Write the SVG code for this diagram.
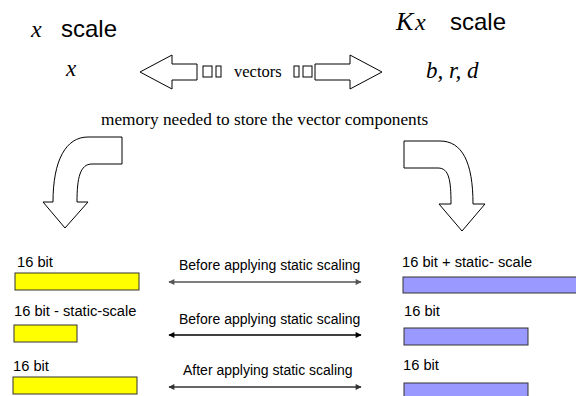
<svg xmlns="http://www.w3.org/2000/svg" width="576" height="396" viewBox="0 0 576 396">
<defs>
<style>
.sans{font-family:"Liberation Sans",Arial,sans-serif;fill:#000}
.serif{font-family:"Liberation Serif","Times New Roman",serif;fill:#000}
.math{font-family:"Liberation Serif","Times New Roman",serif;font-style:italic;fill:#000}
.big{fill:#fff;stroke:#000;stroke-width:1}
.tofu{fill:#fff;stroke:#000;stroke-width:1}
.ybar{fill:#ffff00;stroke:#333;stroke-width:1}
.bbar{fill:#9999ff;stroke:#333;stroke-width:1}
.lbl{font-size:14.7px}
.dbl{stroke-width:1.5;fill:none}
</style>
<marker id="ah" viewBox="0 0 10 10" refX="9" refY="5" markerWidth="8" markerHeight="6" orient="auto-start-reverse" markerUnits="userSpaceOnUse">
<path d="M0,0 L10,5 L0,10 z" fill="context-stroke"/>
</marker>
</defs>
<rect width="576" height="396" fill="#fff"/>

<g id="x-scale-title">
<text class="math" x="31" y="37" font-size="24">x</text>
<text class="sans" x="61" y="37" font-size="24">scale</text>
</g>
<g id="kx-scale-title">
<text class="math" x="396" y="30" font-size="26">K</text>
<text class="math" x="415" y="30" font-size="24">x</text>
<text class="sans" x="450" y="30" font-size="24">scale</text>
</g>
<g id="x-vector">
<text class="math" x="66" y="76" font-size="23">x</text>
</g>
<g id="brd-vector">
<text class="math" x="426" y="78" font-size="23">b, r, d</text>
</g>

<g id="vectors">
<path class="big" d="M140,72 L172,55 L172,64 L197,64 L197,80 L172,80 L172,89 Z"/>
<rect class="tofu" x="203" y="66" width="9" height="11"/>
<rect class="tofu" x="216" y="66" width="5" height="11"/>
<text class="serif" x="234" y="77" font-size="16.5">vectors</text>
<rect class="tofu" x="294" y="66" width="5" height="11"/>
<rect class="tofu" x="303" y="66" width="9" height="11"/>
<path class="big" d="M382,72 L350,55 L350,64 L315,64 L315,80 L350,80 L350,89 Z"/>
</g>

<g id="memory-label">
<text class="serif" x="101" y="125" font-size="17.3">memory needed to store the vector components</text>
</g>

<g id="curved-arrow-left">
<path class="big" d="M122,137 L88,137 C66,137 53,160 53,202 L43,202 L65,228 L88,202 L77,202 C77,178 80,164 92,164 L122,164 Z"/>
</g>
<g id="curved-arrow-right">
<path class="big" d="M404,141 L440,141 C462,141 473,162 473,204 L485,204 L462,231 L439,204 L451,204 C451,180 449,168 438,168 L404,168 Z"/>
</g>

<g id="row1-left">
<text class="sans lbl" x="17" y="267">16 bit</text>
<rect class="ybar" x="15" y="273" width="124" height="17"/>
</g>
<g id="row2-left">
<text class="sans lbl" x="14" y="316">16 bit - static-scale</text>
<rect class="ybar" x="14" y="325" width="63" height="17"/>
</g>
<g id="row3-left">
<text class="sans lbl" x="13" y="371">16 bit</text>
<rect class="ybar" x="13" y="377" width="124" height="17"/>
</g>

<g id="row1-right">
<text class="sans lbl" x="402" y="267">16 bit + static- scale</text>
<rect class="bbar" x="403" y="277" width="180" height="16"/>
</g>
<g id="row2-right">
<text class="sans lbl" x="404" y="316">16 bit</text>
<rect class="bbar" x="404" y="328" width="124" height="17"/>
</g>
<g id="row3-right">
<text class="sans lbl" x="403" y="370">16 bit</text>
<rect class="bbar" x="404" y="383" width="124" height="17"/>
</g>

<g id="row-labels">
<text class="sans" x="179" y="270" font-size="14">Before applying static scaling</text>
<text class="sans" x="179" y="324" font-size="14">Before applying static scaling</text>
<text class="sans" x="183" y="375" font-size="14">After applying static scaling</text>
</g>

<g id="connectors">
<line class="dbl" x1="169" y1="282" x2="361" y2="282" stroke="#555" marker-start="url(#ah)" marker-end="url(#ah)"/>
<line class="dbl" x1="169" y1="335" x2="361" y2="335" stroke="#000" marker-start="url(#ah)" marker-end="url(#ah)"/>
<line class="dbl" x1="169" y1="387" x2="361" y2="387" stroke="#333" marker-start="url(#ah)" marker-end="url(#ah)"/>
</g>
</svg>
